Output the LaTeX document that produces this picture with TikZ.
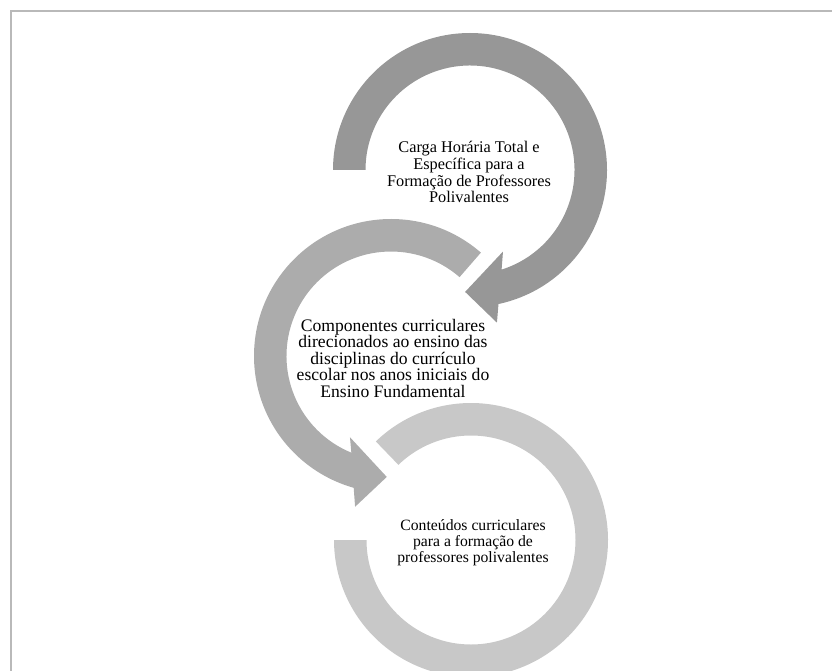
\documentclass[tikz,border=0pt]{standalone}
\usepackage{fontspec}
\setmainfont{Liberation Serif}
\definecolor{ringA}{RGB}{151,151,151}
\definecolor{ringB}{RGB}{172,172,172}
\definecolor{ringC}{RGB}{200,200,200}
\definecolor{framec}{RGB}{185,185,185}
\tikzset{
  lbl/.style={align=center, inner sep=0pt, text=black},
}
\begin{document}
\begin{tikzpicture}[x=1pt,y=1pt]
\useasboundingbox (0,-671) rectangle (832,0);
\clip (0,-671) rectangle (832,0);
% frame
\draw[framec, line width=2] (10.5,-671) -- (10.5,-11.5) -- (832,-11.5);
% ring 3 (bottom)
\begin{scope}[shift={(471,-540)}]
\fill[ringC] (134:137) arc[start angle=134, end angle=-180, radius=137]
  -- (-180:104.5) arc[start angle=-180, end angle=134, radius=104.5] -- cycle;
\end{scope}
% ring 2 (middle)
\begin{scope}[shift={(391,-356)}]
\fill[ringB] (49:137) arc[start angle=49, end angle=254.2, radius=137]
  -- (256.6:155) -- (268:121) -- (243.2:91) -- (247.7:104.5)
  arc[start angle=247.7, end angle=49, radius=104.5] -- cycle;
\end{scope}
% ring 1 (top)
\begin{scope}[shift={(470,-170)}]
\fill[ringA] (180:137) arc[start angle=180, end angle=-78, radius=137]
  -- (-80:155) -- (-92.3:122) -- (-68:88) -- (-72.4:104.5)
  arc[start angle=-72.4, end angle=180, radius=104.5] -- cycle;
\end{scope}
% texts
\node[lbl, font=\fontsize{16.3}{16.9}\selectfont] (t1) at (469,-172)
  {Carga Horária Total e\\Específica para a\\Formação de Professores\\Polivalentes};
\node[lbl, font=\fontsize{17.6}{16.5}\selectfont] (t2) at (393,-358)
  {Componentes curriculares\\direcionados ao ensino das\\disciplinas do currículo\\escolar nos anos iniciais do\\Ensino Fundamental};
\node[lbl, font=\fontsize{15.7}{15.8}\selectfont] (t3) at (473,-543)
  {Conteúdos curriculares\\para a formação de\\professores polivalentes};
\end{tikzpicture}
\end{document}
